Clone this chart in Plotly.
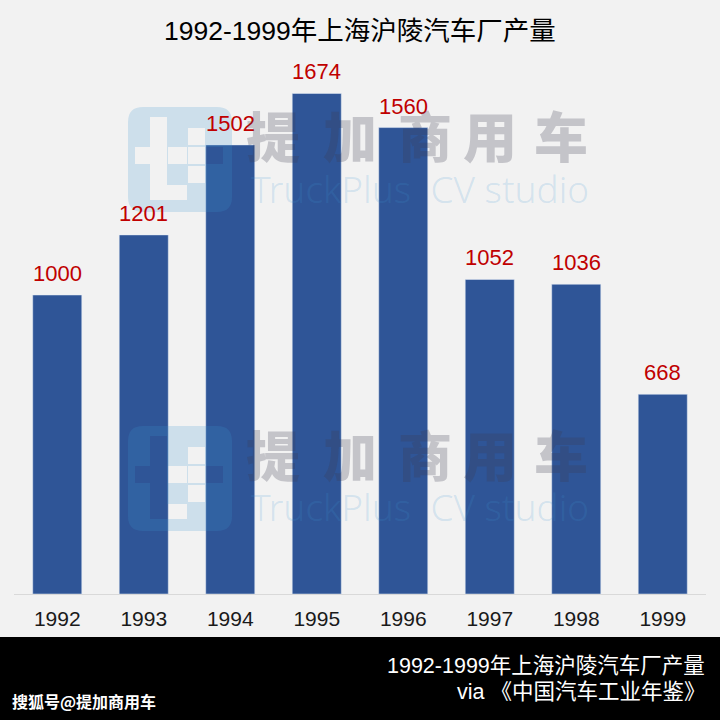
import plotly.graph_objects as go

years = ['1992', '1993', '1994', '1995', '1996', '1997', '1998', '1999']
output = [1000, 1201, 1502, 1674, 1560, 1052, 1036, 668]

title = '1992-1999年上海沪陵汽车厂产量'
source = 'via 《中国汽车工业年鉴》'
credit = '搜狐号@提加商用车'
wm_cn = ['提', '加', '商', '用', '车']
wm_en = 'TruckPlus  CV studio'

FONT = 'Liberation Sans, Arial, Noto Sans CJK SC'
CJK = 'Noto Sans CJK SC'

# plot box in pixels: left 14, right 706, top 60, bottom 594
L, R, T, B = 14, 706, 60, 594


def px(x):
    return (x - L) / (R - L)


def py(y):
    return (B - y) / (B - T)


def rect(x0, y0, x1, y1):
    return f'M{px(x0)},{py(y0)} L{px(x1)},{py(y0)} L{px(x1)},{py(y1)} L{px(x0)},{py(y1)} Z '


def rounded(x0, y0, x1, y1, r):
    p = f'M{px(x0 + r)},{py(y0)} L{px(x1 - r)},{py(y0)} '
    p += f'Q{px(x1)},{py(y0)} {px(x1)},{py(y0 + r)} L{px(x1)},{py(y1 - r)} '
    p += f'Q{px(x1)},{py(y1)} {px(x1 - r)},{py(y1)} L{px(x0 + r)},{py(y1)} '
    p += f'Q{px(x0)},{py(y1)} {px(x0)},{py(y1 - r)} L{px(x0)},{py(y0 + r)} '
    p += f'Q{px(x0)},{py(y0)} {px(x0 + r)},{py(y0)} Z '
    return p


def logo_path(ox, oy):
    p = rounded(ox, oy, ox + 104, oy + 105, 15)
    holes = [(22, 10, 39, 93), (39, 78, 59, 93), (7, 40, 22, 57), (40, 40, 59, 57),
             (60, 21, 77, 38), (60, 40, 77, 57), (60, 59, 77, 76), (78, 40, 95, 57)]
    for a, b, c, d in holes:
        p += rect(ox + a, oy + b, ox + c, oy + d)
    return p


def note(x, y, text, size, color, family=FONT, xanchor='center', weight='normal'):
    return dict(xref='paper', yref='paper', x=x, y=y, text=text, showarrow=False,
                xanchor=xanchor, yanchor='middle',
                font=dict(family=family, size=size, color=color, weight=weight))


fig = go.Figure()

fig.add_trace(go.Bar(x=years, y=output, marker_color='#2f5597', hoverinfo='x+y'))

annotations = []
# value labels (x as category index)
for i, v in enumerate(output):
    annotations.append(dict(x=i, y=v, text=str(v), showarrow=False, xanchor='center', yanchor='bottom',
                            yshift=7, font=dict(family=FONT, size=22, color='#c00000')))

annotations.append(note(0.5, py(31), title, 26.5, '#000000'))
annotations.append(note(px(707), py(666), title, 21.5, '#ffffff', xanchor='right'))
annotations.append(note(px(707), py(692), source, 21.5, '#ffffff', xanchor='right'))
annotations.append(note(px(10), py(701), credit, 16, '#ffffff', family=CJK, xanchor='left', weight='bold'))

shapes = [dict(type='rect', xref='paper', yref='paper', x0=-0.1, x1=1.1, y0=py(637), y1=py(725),
               fillcolor='#000000', line_width=0, layer='below')]

# watermarks
for dy in (0, 319):
    for ch, cx in zip(wm_cn, [273, 350, 425, 490, 561]):
        annotations.append(note(px(cx), py(134 + dy), ch, 54, 'rgba(60,60,80,0.25)', family=CJK, weight=900))
    annotations.append(note(px(420), py(188 + dy), wm_en, 37, 'rgba(60,150,210,0.18)',
                            family='Noto Sans', weight=300))
    shapes.append(dict(type='path', xref='paper', yref='paper', path=logo_path(128, 107 + dy),
                       fillcolor='rgba(60,150,210,0.2)', line_width=0, fillrule='evenodd', layer='above'))

fig.update_layout(
    width=720, height=720,
    margin=dict(l=L, r=720 - R, t=T, b=720 - B),
    paper_bgcolor='#f2f2f2', plot_bgcolor='#f2f2f2',
    bargap=0.433,
    showlegend=False,
    annotations=annotations,
    shapes=shapes,
    xaxis=dict(type='category', range=[-0.5, len(years) - 0.5], showgrid=False, showline=True,
               linecolor='#d9d9d9', linewidth=1, ticks='', ticklabelstandoff=6,
               tickfont=dict(family=FONT, size=21, color='#1a1a1a')),
    yaxis=dict(range=[0, 1786], visible=False),
)

fig.write_html('out.html', config={'displayModeBar': False},
               post_script="document.body.style.margin='0px';")
